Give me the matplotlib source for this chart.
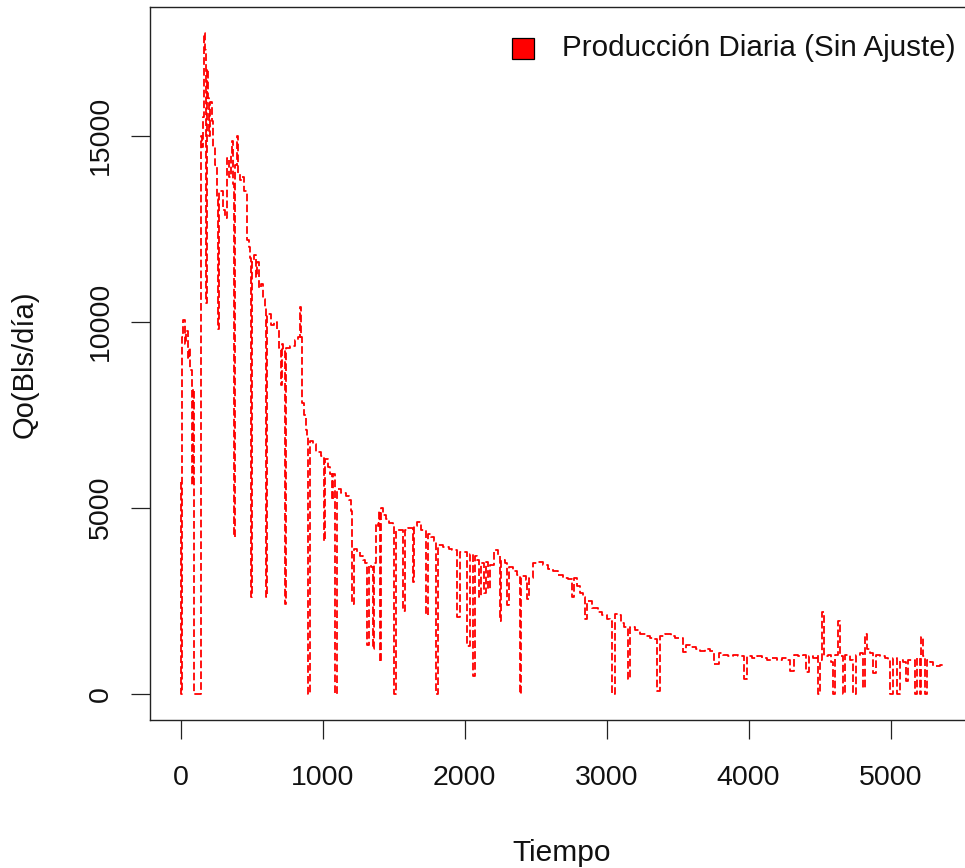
import matplotlib
matplotlib.use("Agg")
import matplotlib.pyplot as plt
from matplotlib.patches import Rectangle

# ---------------- data ----------------
tiempo = [0, 5, 10, 20, 30, 40, 50, 60, 70, 78, 82, 86, 92, 95, 140,
          141, 148, 155, 162, 169, 176, 183, 190, 197, 204, 211, 225, 232, 246, 260,
          267, 274, 296, 310, 324, 338, 352, 366, 373, 380, 387, 401, 408, 422, 436,
          450, 465, 479, 486, 493, 500, 514, 528, 542, 556, 570, 584, 598, 605, 612,
          634, 655, 676, 690, 704, 712, 725, 739, 746, 774, 803, 824, 838, 845, 852,
          866, 880, 894, 901, 915, 936, 957, 986, 1007, 1014, 1035, 1056, 1070, 1077, 1091,
          1105, 1133, 1162, 1183, 1197, 1204, 1218, 1246, 1267, 1288, 1302, 1316, 1324, 1338, 1352,
          1359, 1373, 1387, 1401, 1408, 1415, 1429, 1450, 1471, 1493, 1500, 1514, 1549, 1570, 1584,
          1605, 1640, 1647, 1668, 1690, 1725, 1739, 1767, 1788, 1802, 1816, 1851, 1887, 1915, 1950,
          1971, 2000, 2020, 2035, 2056, 2070, 2091, 2105, 2119, 2140, 2154, 2168, 2182, 2210, 2232,
          2246, 2260, 2288, 2302, 2316, 2344, 2372, 2387, 2400, 2430, 2443, 2457, 2485, 2520, 2555,
          2590, 2626, 2661, 2696, 2731, 2753, 2767, 2795, 2816, 2837, 2851, 2865, 2900, 2936, 2971,
          3006, 3027, 3041, 3062, 3083, 3098, 3126, 3154, 3168, 3203, 3238, 3274, 3309, 3337, 3358,
          3379, 3414, 3450, 3485, 3520, 3541, 3562, 3590, 3626, 3661, 3696, 3731, 3759, 3788, 3823,
          3858, 3893, 3928, 3970, 3992, 4027, 4062, 4097, 4132, 4168, 4203, 4238, 4273, 4294, 4316,
          4351, 4386, 4407, 4428, 4456, 4478, 4492, 4506, 4520, 4534, 4562, 4583, 4597, 4611, 4632,
          4646, 4667, 4682, 4717, 4738, 4759, 4787, 4808, 4822, 4836, 4858, 4879, 4900, 4928, 4963,
          4984, 4998, 5020, 5048, 5069, 5090, 5111, 5125, 5153, 5174, 5188, 5210, 5217, 5231, 5245,
          5259, 5280, 5301, 5329, 5351, 5372]

produccion = [5700, 0, 9600, 10050, 9400, 9750, 9000, 9300, 8700, 8300, 5600, 8200, 8000, 0, 0,
              15000, 14700, 15500, 17750, 17300, 10500, 16800, 16300, 16000, 15000, 15900, 15400, 14700, 14200, 13300,
              9800, 13500, 13000, 12800, 14400, 13900, 14500, 14850, 13700, 4200, 14200, 15000, 14000, 13800, 13900,
              13500, 12200, 12000, 11700, 2600, 11600, 11800, 11200, 11600, 10900, 11000, 10600, 10400, 2600, 10200,
              9900, 10000, 9800, 9300, 8300, 9400, 9200, 2400, 9300, 9350, 9500, 9600, 10400, 9600, 7800,
              7500, 7100, 6900, 0, 6800, 6700, 6500, 6400, 4100, 6300, 6100, 5900, 5200, 5900, 0,
              5500, 5400, 5300, 5200, 4900, 2400, 3900, 3800, 3700, 3600, 3500, 1300, 3450, 3400, 1200,
              3500, 4600, 4500, 4900, 850, 5000, 4800, 4700, 4600, 4500, 0, 4400, 4400, 2230, 4400,
              4450, 3000, 4500, 4620, 4400, 2100, 4300, 4200, 4100, 0, 4000, 3950, 3900, 3850, 2070,
              3820, 3800, 1290, 3750, 480, 3700, 3600, 2600, 3500, 2700, 3550, 2800, 3450, 3850, 3700,
              1940, 3600, 3500, 2370, 3400, 3300, 3200, 0, 3150, 3050, 2550, 3100, 3500, 3550, 3450,
              3350, 3300, 3200, 3100, 3080, 2600, 3100, 2900, 2700, 2600, 2000, 2500, 2300, 2200, 2100,
              2000, 1950, 0, 2150, 2100, 1900, 1800, 400, 1800, 1700, 1600, 1550, 1500, 1480, 80,
              1550, 1600, 1550, 1500, 1500, 1130, 1300, 1250, 1200, 1150, 1200, 1150, 800, 1100, 1050,
              1000, 1050, 1000, 400, 1000, 950, 1000, 950, 900, 950, 900, 950, 900, 600, 1050,
              1000, 1050, 590, 1000, 950, 1050, 0, 900, 2200, 1000, 1050, 850, 0, 1050, 1940,
              1000, 0, 1050, 900, 0, 1050, 1100, 150, 1610, 1200, 1100, 550, 1050, 1000, 950,
              900, 0, 950, 0, 900, 850, 350, 900, 900, 0, 950, 0, 1530, 1000, 0,
              900, 850, 750, 730, 780, 800]

x_ticks = [0, 1000, 2000, 3000, 4000, 5000]
y_ticks = [0, 5000, 10000, 15000]
x_title = "Tiempo"
y_title = "Qo(Bls/día)"
legend_label = "Producción Diaria (Sin Ajuste)"

# ---------------- figure ----------------
plt.rcParams['font.family'] = ['Liberation Sans', 'DejaVu Sans']
plt.rcParams['lines.scale_dashes'] = False

W, H = 965, 868
fig = plt.figure(figsize=(W / 100, H / 100), dpi=100)

# R-style 4% range extension
def r_lim(vals):
    lo, hi = min(vals), max(vals)
    pad = 0.04 * (hi - lo)
    return lo - pad, hi + pad

xlim = r_lim(tiempo)
ylim = r_lim(produccion)

left_px, right_px, top_px, bottom_px = 150, 974, 7, 720
ax = fig.add_axes([left_px / W, 1 - bottom_px / H,
                   (right_px - left_px) / W, (bottom_px - top_px) / H])

ax.plot(tiempo, produccion, color='#FF0000', lw=1.3, drawstyle='steps-post',
        linestyle=(0, (5.5, 2.3)))

ax.set_xlim(*xlim)
ax.set_ylim(*ylim)
ax.set_xticks(x_ticks)
ax.set_yticks(y_ticks)
ax.set_xticklabels([str(v) for v in x_ticks])
ax.set_yticklabels([str(v) for v in y_ticks], rotation=90, va='center')

for s in ax.spines.values():
    s.set_linewidth(1.0)
    s.set_color('#222222')

ax.tick_params(axis='both', direction='out', length=13.7, width=0.9,
               colors='#222222', labelcolor='#111111', labelsize=20.5)
ax.tick_params(axis='x', pad=19)
ax.tick_params(axis='y', pad=12.5)

# axis titles
fig.text(562 / W, 1 - 853 / H, x_title, ha='center', va='center',
         fontsize=21.5, color='#111111')
fig.text(25 / W, 1 - 364 / H, y_title, ha='center', va='center',
         rotation=90, fontsize=21, color='#111111')

# legend (no frame, filled box)
fig.add_artist(Rectangle((512 / W, 1 - 59 / H), 22 / W, 21 / H,
                         transform=fig.transFigure, facecolor='#FF0000',
                         edgecolor='black', lw=0.9))
fig.text(562 / W, 1 - 48 / H, legend_label, ha='left', va='center',
         fontsize=21.3, color='#111111')

fig.savefig("out.png", dpi=100)
